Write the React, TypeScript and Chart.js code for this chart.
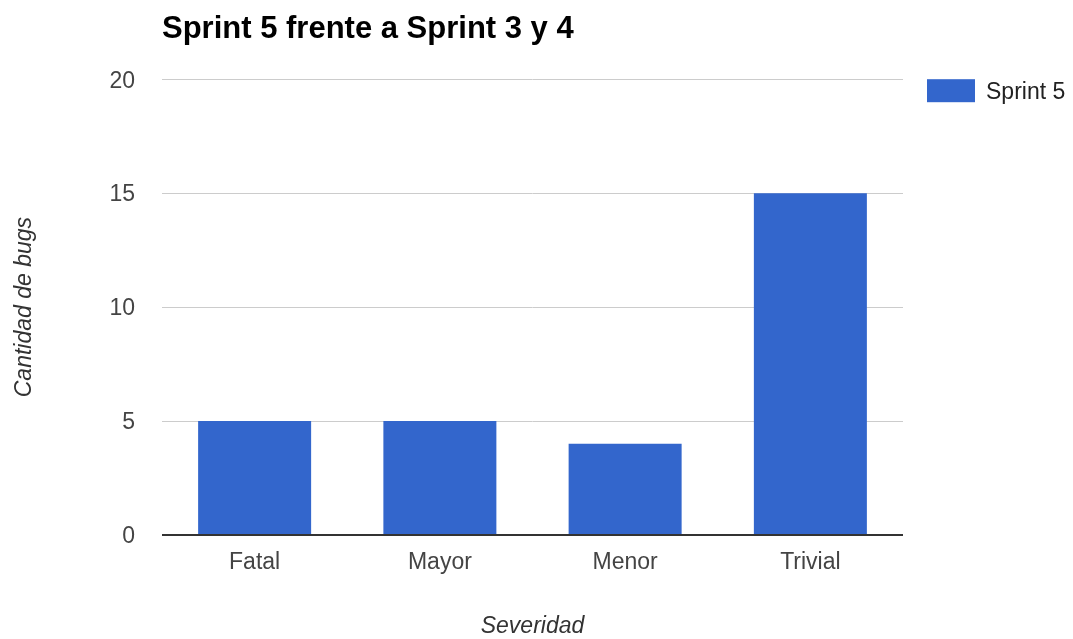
import React, { useEffect, useRef } from "react";
import { Chart, registerables } from "chart.js";

Chart.register(...registerables);

const TITLE = "Sprint 5 frente a Sprint 3 y 4";
const categories = ["Fatal", "Mayor", "Menor", "Trivial"];
const seriesName = "Sprint 5";
const sprint5Values = [5, 5, 4, 15];
const yTicks = [0, 5, 10, 15, 20];
const xTitle = "Severidad";
const yTitle = "Cantidad de bugs";

const FONT = "'Liberation Sans', Arial, sans-serif";

const legendPlugin = {
  id: "customLegend",
  afterDraw(chart: any) {
    const { ctx, chartArea } = chart;
    const ds = chart.data.datasets[0];
    const x = chartArea.right + 24;
    const y = chartArea.top;
    ctx.save();
    ctx.fillStyle = ds.backgroundColor;
    ctx.fillRect(x, y, 48, 23);
    ctx.fillStyle = "#222";
    ctx.font = `23px ${FONT}`;
    ctx.textBaseline = "middle";
    ctx.textAlign = "left";
    ctx.fillText(ds.label, x + 59, y + 13);
    ctx.restore();
  },
};

export default function App() {
  const ref = useRef<HTMLCanvasElement>(null);
  useEffect(() => {
    document.body.style.margin = "0";
    const chart = new Chart(ref.current!, {
      type: "bar",
      data: {
        labels: categories,
        datasets: [
          {
            label: seriesName,
            data: sprint5Values,
            backgroundColor: "#3366cc",
            categoryPercentage: 1,
            barPercentage: 0.61,
          },
        ],
      },
      plugins: [legendPlugin],
      options: {
        responsive: false,
        animation: false,
        layout: { padding: { top: 0, right: 170, bottom: 0, left: 0 } },
        plugins: {
          legend: { display: false },
          tooltip: { enabled: false },
          title: {
            display: true,
            text: TITLE,
            align: "start",
            fullSize: false,
            color: "#000",
            font: { family: FONT, size: 31, weight: "bold", lineHeight: 1.2 },
            padding: { top: 11, bottom: 31 },
          },
        },
        scales: {
          x: {
            grid: { display: false, drawTicks: false },
            border: { display: false },
            ticks: {
              color: "#444",
              padding: 14,
              font: { family: FONT, size: 23 },
            },
            title: {
              display: true,
              text: xTitle,
              color: "#333",
              padding: { top: 1, bottom: 1 },
              font: { family: FONT, size: 23, style: "italic", lineHeight: 1 },
            },
            afterFit: (s: any) => {
              s.height = 104;
            },
          },
          y: {
            min: 0,
            max: 20,
            afterBuildTicks: (s: any) => {
              s.ticks = yTicks.map((v) => ({ value: v }));
            },
            grid: {
              drawTicks: false,
              color: (c: any) => (c.tick && c.tick.value === 0 ? "#333" : "#ccc"),
              lineWidth: (c: any) => (c.tick && c.tick.value === 0 ? 2 : 1),
            },
            border: { display: false },
            ticks: {
              color: "#444",
              padding: 27,
              labelOffset: 2,
              font: { family: FONT, size: 23 },
            },
            title: {
              display: true,
              text: yTitle,
              color: "#333",
              padding: { top: 11, bottom: 11 },
              font: { family: FONT, size: 23, style: "italic", lineHeight: 1.2 },
            },
            afterFit: (s: any) => {
              s.width = 162;
            },
          },
        },
      },
    });
    return () => chart.destroy();
  }, []);
  return (
    <div style={{ width: 1073, height: 639, background: "#fff" }}>
      <canvas ref={ref} width={1073} height={639} />
    </div>
  );
}
